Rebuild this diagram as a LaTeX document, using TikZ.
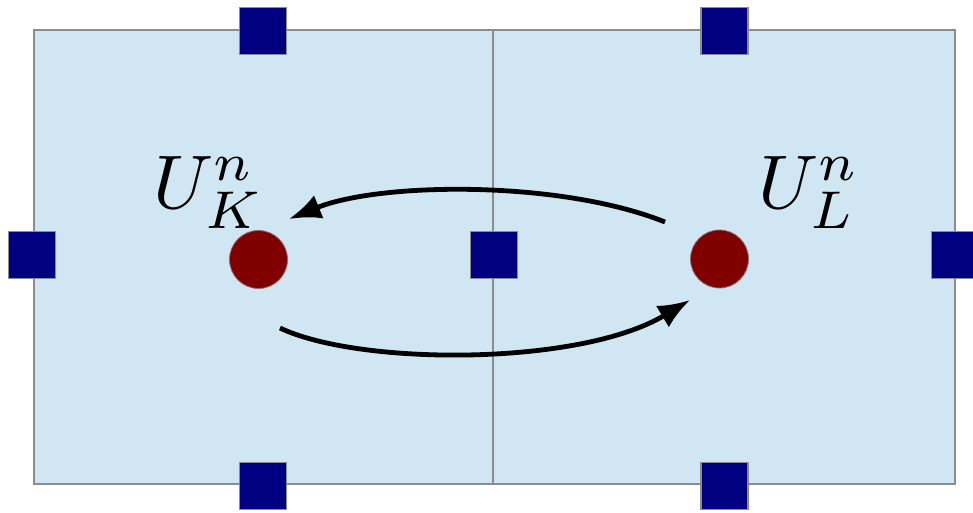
\documentclass[tikz,border=0pt]{standalone}
\usetikzlibrary{arrows.meta}
\definecolor{cellblue}{RGB}{208,230,243}
\definecolor{edgegray}{RGB}{140,140,140}
\definecolor{dofblue}{RGB}{0,0,128}
\definecolor{cellred}{RGB}{128,0,0}
\begin{document}
\begin{tikzpicture}[x=1pt,y=-1pt,
  cellbox/.style={draw=edgegray,line width=2pt,fill=cellblue},
  facedof/.style={rectangle,draw=edgegray,line width=1.5pt,fill=dofblue,minimum size=47pt,inner sep=0pt},
  centre/.style={circle,draw=edgegray!80!cellred,line width=0.8pt,fill=cellred,minimum size=58pt,inner sep=0pt},
  lab/.style={anchor=base west,inner sep=0pt,scale=7.6},
  flux/.style={line width=4.8pt,-{Latex[length=32pt,width=25pt]}}]
\useasboundingbox (0,0) rectangle (973,512);
\draw[cellbox] (34,30) rectangle (493,484);
\draw[cellbox] (493,30) rectangle (955,484);
\node[facedof] (ft1) at (263,31) {};
\node[facedof] (ft2) at (724.5,31) {};
\node[facedof] (fl) at (32,255) {};
\node[facedof] (fm) at (494,255) {};
\node[facedof] (fr) at (955,255) {};
\node[facedof] (fb1) at (263,486) {};
\node[facedof] (fb2) at (724.5,486) {};
\node[centre] (K) at (258.5,259.5) {};
\node[centre] (L) at (719.5,259) {};
\node[lab] (UK) at (152,208) {$U_K^n$};
\node[lab] (UL) at (757,208) {$U_L^n$};
\coordinate (a1) at (665,222);
\coordinate (a2) at (289,219);
\coordinate (b1) at (280,328);
\coordinate (b2) at (690,300);
\draw[flux] (a1) .. controls (560,180) and (380,182) .. (a2);
\draw[flux] (b1) .. controls (360,366) and (580,366) .. (b2);
\end{tikzpicture}
\end{document}
